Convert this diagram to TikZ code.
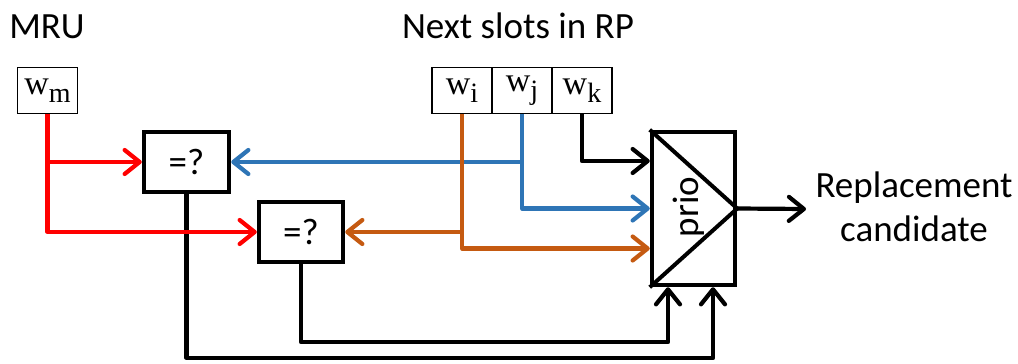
\documentclass[tikz,border=0pt]{standalone}
\usepackage{fontspec}
\setmainfont{Carlito}
\newfontfamily\serifw{Liberation Serif}
\usetikzlibrary{arrows.meta,calc}

\definecolor{wireblue}{RGB}{46,117,182}
\definecolor{wireorange}{RGB}{197,90,17}
\definecolor{wirered}{RGB}{255,0,0}

% slot label: serif w with a lowered index
\newcommand{\slotlab}[1]{{\serifw\fontsize{34}{34}\selectfont w\raisebox{-8pt}{\fontsize{28}{28}\selectfont #1}}}

\begin{document}
\begin{tikzpicture}[x=1pt,y=-1pt,
  font=\fontsize{37}{44}\selectfont,
  slotbox/.style={draw, line width=1.8pt, inner sep=0pt, minimum width=60pt, minimum height=46pt},
  cmpbox/.style={draw, line width=4.5pt, inner sep=0pt, minimum width=85pt, minimum height=60pt},
  wire/.style={line width=4.2pt, line join=round},
  arr/.style={wire, -{Straight Barb[length=15pt,width=24pt,round]}}
]
\useasboundingbox (0,0) rectangle (1018,364);

% titles
\node[anchor=base] (mru) at (47,38) {MRU};
\node[anchor=base] (next) at (518,38) {Next slots in RP};

% register slots
\node[slotbox] (wm) at (47.5,90.5) {\slotlab{m}};
\node[slotbox] (wi) at (462,90.5) {\slotlab{i}};
\node[slotbox] (wj) at (522,90.5) {\slotlab{j}};
\node[slotbox] (wk) at (582,90.5) {\slotlab{k}};

% comparators
\node[cmpbox] (c1) at (186.5,162) {=?};
\node[cmpbox, minimum width=84pt] (c2) at (301,232) {=?};

% priority selector
\node[draw, line width=4.5pt, inner sep=0pt, minimum width=83pt, minimum height=153pt] (prio) at (693.5,208.5) {};
\draw[line width=4pt, line join=miter] (prio.north west) -- (prio.east) -- (prio.south west);
\node[rotate=90] (priotxt) at (689,207) {prio};

% output
\coordinate (out) at (806,209);
\draw[arr] (prio.east) -- (out);
\node[align=center] (cand) at (914,207) {Replacement\\candidate};

% comparator results into the selector
\coordinate (low1) at (c1.south |- 0,358);
\coordinate (low2) at (c2.south |- 0,342);
\draw[arr] (c1.south) -- (low1) -| ([xshift=19.5pt]prio.south);
\draw[arr] (c2.south) -- (low2) -| ([xshift=-25.5pt]prio.south);

% candidate slots
\draw[arr] (wk.south) |- ([yshift=47.5pt]prio.west);
\draw[arr, wireblue] (wj.south) |- (prio.west);
\draw[arr, wireblue] (wj.south |- c1.east) -- (c1.east);
\draw[arr, wireorange] (wi.south) |- ([yshift=-40pt]prio.west);
\draw[arr, wireorange] (wi.south |- c2.east) -- (c2.east);

% most recently used slot
\draw[arr, wirered] (wm.south) |- (c2.west);
\draw[arr, wirered] (wm.south |- c1.west) -- (c1.west);
\end{tikzpicture}
\end{document}
